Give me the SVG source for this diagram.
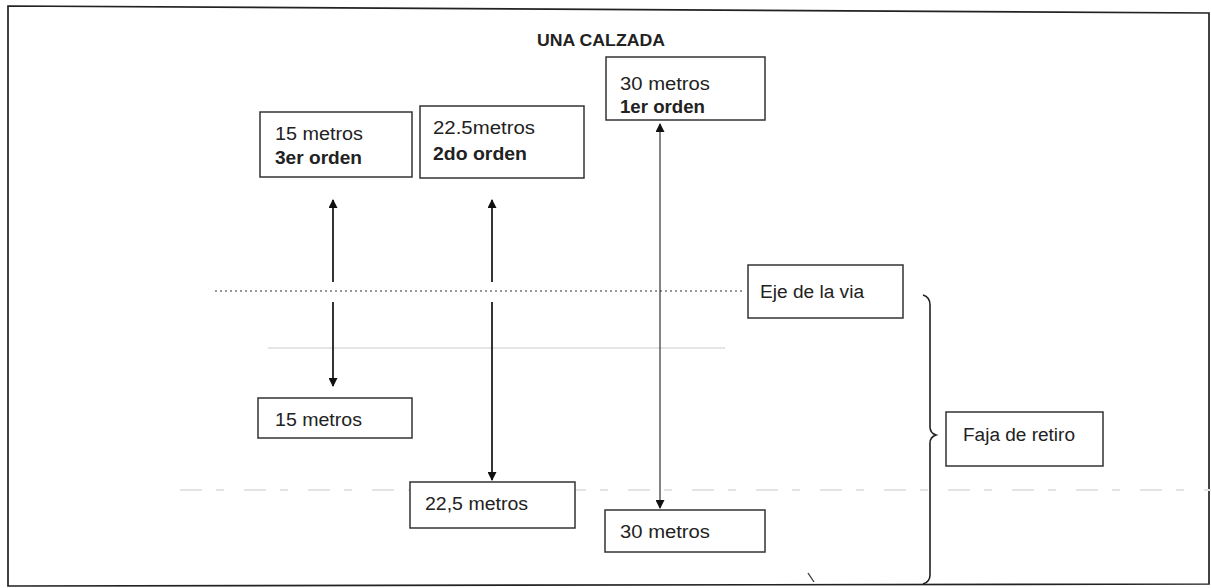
<svg xmlns="http://www.w3.org/2000/svg" width="1211" height="588" viewBox="0 0 1211 588">
<defs>
<style>
.box{fill:#fff;stroke:#333;stroke-width:1.5}
.t{font-family:"Liberation Sans",Arial,sans-serif;font-size:18px;fill:#222}
.b{font-weight:bold}
.arr{stroke:#111;stroke-width:1.7;fill:none}
.thin{stroke:#333;stroke-width:1.2;fill:none}
</style>
<marker id="ah" viewBox="0 0 10 10" refX="9" refY="5" markerWidth="10" markerHeight="9" markerUnits="userSpaceOnUse" orient="auto-start-reverse">
<path d="M0,0 L10,5 L0,10 z" fill="#111"/>
</marker>
</defs>
<rect width="1211" height="588" fill="#fff"/>
<g id="frame">
<polygon points="8,6 1209,13 1209,584 8,586" fill="none" stroke="#222" stroke-width="1.7"/>
</g>
<g id="guides">
<line x1="215" y1="291" x2="745" y2="291" stroke="#777" stroke-width="1.4" stroke-dasharray="2,3"/>
<line x1="268" y1="348" x2="725" y2="348" stroke="#dcdcdc" stroke-width="1.5"/>
<line x1="180" y1="490" x2="1211" y2="490" stroke="#e4e4e4" stroke-width="2" stroke-dasharray="22,14,8,20"/>
</g>
<g id="title"><text class="t b" x="537" y="46" textLength="128" lengthAdjust="spacingAndGlyphs" style="font-size:17px">UNA CALZADA</text></g>
<g id="n15top"><rect class="box" x="260" y="112" width="152" height="65"/><text class="t" x="275" y="140" textLength="88" lengthAdjust="spacingAndGlyphs">15 metros</text><text class="t b" x="275" y="164" textLength="87" lengthAdjust="spacingAndGlyphs">3er orden</text></g>
<g id="n22top"><rect class="box" x="420" y="106" width="164" height="72"/><text class="t" x="433" y="134" textLength="102" lengthAdjust="spacingAndGlyphs">22.5metros</text><text class="t b" x="433" y="160" textLength="94" lengthAdjust="spacingAndGlyphs">2do orden</text></g>
<g id="n30top"><rect class="box" x="606" y="57" width="159" height="63"/><text class="t" x="620" y="90" textLength="90" lengthAdjust="spacingAndGlyphs">30 metros</text><text class="t b" x="620" y="113" textLength="85" lengthAdjust="spacingAndGlyphs">1er orden</text></g>
<g id="eje"><rect class="box" x="748" y="265" width="155" height="53"/><text class="t" x="760" y="298" textLength="104" lengthAdjust="spacingAndGlyphs">Eje de la via</text></g>
<g id="n15bot"><rect class="box" x="258" y="398" width="154" height="40"/><text class="t" x="275" y="426" textLength="87" lengthAdjust="spacingAndGlyphs">15 metros</text></g>
<g id="n22bot"><rect class="box" x="410" y="482" width="165" height="46"/><text class="t" x="425" y="510" textLength="103" lengthAdjust="spacingAndGlyphs">22,5 metros</text></g>
<g id="n30bot"><rect class="box" x="605" y="510" width="160" height="42"/><text class="t" x="620" y="538" textLength="90" lengthAdjust="spacingAndGlyphs">30 metros</text></g>
<g id="faja"><rect class="box" x="946" y="412" width="157" height="54"/><text class="t" x="963" y="441" textLength="112" lengthAdjust="spacingAndGlyphs">Faja de retiro</text></g>
<g id="connectors">
<line class="arr" x1="333" y1="282" x2="333" y2="200" marker-end="url(#ah)"/>
<line class="arr" x1="333" y1="302" x2="333" y2="386" marker-end="url(#ah)"/>
<line class="arr" x1="492" y1="282" x2="492" y2="200" marker-end="url(#ah)"/>
<line class="arr" x1="492" y1="302" x2="492" y2="480" marker-end="url(#ah)"/>
<line class="thin" x1="660" y1="124" x2="660" y2="508" marker-start="url(#ah)" marker-end="url(#ah)"/>
<path d="M923,295 Q930,297 930,305 L930,427 Q930,433 936,435 Q930,437 930,443 L930,575 Q930,582 923,584" fill="none" stroke="#222" stroke-width="1.6"/>
<path d="M808,573 L814,582" stroke="#333" stroke-width="1.3"/>
</g>
</svg>
